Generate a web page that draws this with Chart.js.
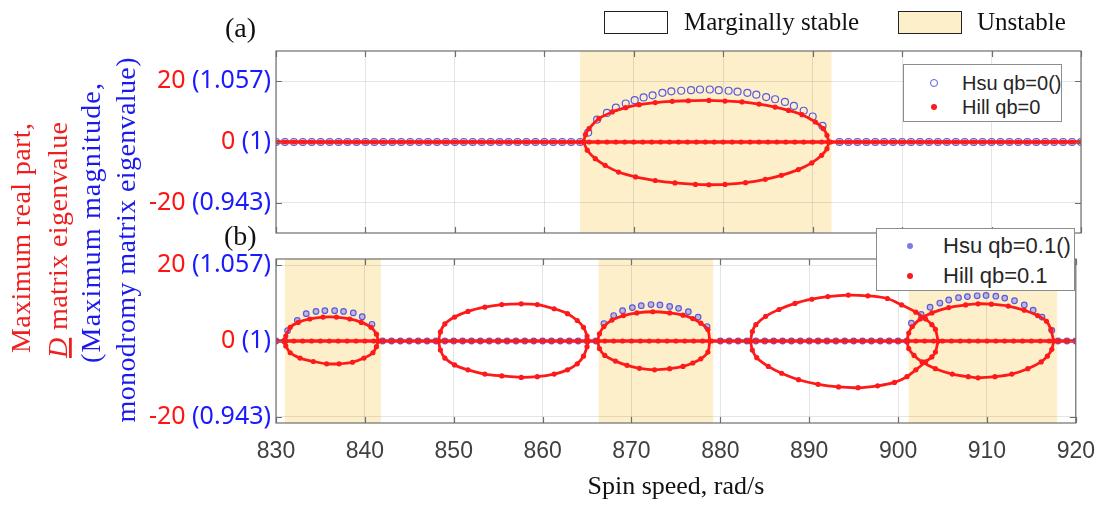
<!DOCTYPE html>
<html>
<head>
<meta charset="utf-8">
<title>Stability of the spinning system</title>
<script src="https://cdn.jsdelivr.net/npm/chart.js@4.4.1/dist/chart.umd.min.js"></script>
<style>
  body { margin: 0; background: #fff; }
  #fig { position: relative; width: 1110px; height: 508px; overflow: hidden; background: #fff; }
  #fig canvas { position: absolute; left: 0; top: 0; }
  .serif { position: absolute; font-family: "Liberation Serif", "Times New Roman", serif; color: #111; white-space: nowrap; line-height: 1; }
  .swatch { position: absolute; border: 1.5px solid #222; box-sizing: border-box; }
  .key { position: absolute; background: #fff; border: 1px solid #8c8c8c; box-sizing: border-box;
         font-family: "Liberation Sans", Arial, sans-serif; color: #262626; }
  .key div { position: absolute; white-space: nowrap; line-height: 1; }
  .key .dot { border-radius: 50%; box-sizing: border-box; }
</style>
</head>
<body>
<div id="fig">
  <canvas id="panelA" width="1110" height="508"></canvas>
  <canvas id="panelB" width="1110" height="508"></canvas>

  <svg width="170" height="508" style="position:absolute;left:0;top:0"
       font-family="Liberation Serif, Times New Roman, serif" font-size="28">
    <text transform="translate(30,238) rotate(-90)" text-anchor="middle" fill="#f01e1e"
          textLength="230" lengthAdjust="spacing">Maximum real part,</text>
    <text transform="translate(67,240) rotate(-90)" text-anchor="middle" fill="#f01e1e"
          textLength="236" lengthAdjust="spacing"><tspan font-style="italic" text-decoration="underline">D</tspan> matrix eigenvalue</text>
    <text transform="translate(100,223) rotate(-90)" text-anchor="middle" fill="#1a1aee"
          textLength="280" lengthAdjust="spacing">(Maximum magnitude,</text>
    <text transform="translate(135,240) rotate(-90)" text-anchor="middle" fill="#1a1aee"
          textLength="365" lengthAdjust="spacing">monodromy matrix eigenvalue)</text>
  </svg>

  <div class="serif" style="left:225px;top:14px;font-size:28px">(a)</div>
  <div class="serif" style="left:224px;top:222px;font-size:28px">(b)</div>

  <div class="swatch" style="left:604px;top:11px;width:64px;height:23px;background:#fff"></div>
  <div class="serif" style="left:684px;top:9px;font-size:25px">Marginally stable</div>
  <div class="swatch" style="left:898px;top:11px;width:64px;height:23px;background:#fdefca"></div>
  <div class="serif" style="left:977px;top:9px;font-size:25px">Unstable</div>

  <div class="key" style="left:903px;top:64px;width:159px;height:58px;font-size:20px">
    <div class="dot" style="left:26px;top:14px;width:8px;height:8px;border:1.3px solid #5a5ae0"></div>
    <div style="left:58px;top:8px">Hsu qb=0()</div>
    <div class="dot" style="left:27px;top:39px;width:6px;height:6px;background:#ff1a1a"></div>
    <div style="left:58px;top:32px">Hill qb=0</div>
  </div>

  <div class="key" style="left:876px;top:228px;width:199px;height:63px;font-size:22px">
    <div class="dot" style="left:30px;top:14px;width:6px;height:6px;background:#7b7be6"></div>
    <div style="left:66px;top:6px">Hsu qb=0.1()</div>
    <div class="dot" style="left:30px;top:44px;width:6px;height:6px;background:#ff1a1a"></div>
    <div style="left:66px;top:36px">Hill qb=0.1</div>
  </div>
</div>

<script>
// ---------- data ----------
var xTicks = [830, 840, 850, 860, 870, 880, 890, 900, 910, 920];
var yTicks = [-20, 0, 20];
var yTickReal = ['-20', '0', '20'];
var yTickMag = ['(0.943)', '(1)', '(1.057)'];

// spin speeds (rad/s) at which the neutral eigenvalues sit on the zero line
var spinGrid = [830, 831, 832, 833, 834, 835, 836, 837, 838, 839, 840, 841, 842, 843, 844, 845,
  846, 847, 848, 849, 850, 851, 852, 853, 854, 855, 856, 857, 858, 859, 860, 861, 862, 863, 864,
  865, 866, 867, 868, 869, 870, 871, 872, 873, 874, 875, 876, 877, 878, 879, 880, 881, 882, 883,
  884, 885, 886, 887, 888, 889, 890, 891, 892, 893, 894, 895, 896, 897, 898, 899, 900, 901, 902,
  903, 904, 905, 906, 907, 908, 909, 910, 911, 912, 913, 914, 915, 916, 917, 918, 919, 920];

// unstable spin-speed ranges
var unstableA = [[864.0, 892.1]];
var unstableB = [[831.0, 841.8], [866.3, 879.2], [901.2, 917.9]];

// (a) qb = 0
var hsuA_x = [864.9, 865.9, 867.0, 868.0, 869.1, 870.1, 871.1, 872.1, 873.2, 874.2, 875.3, 876.4, 877.4,
  878.5, 879.5, 880.6, 881.6, 882.7, 883.7, 884.8, 885.8, 886.9, 887.9, 889.0, 890.0, 891.1];
var hsuA_y = [3.1, 7.4, 9.6, 11.3, 12.7, 13.8, 14.7, 15.4, 16.2, 16.7, 16.9, 17.1, 17.3,
  17.3, 17.1, 16.9, 16.6, 16.2, 15.6, 14.8, 14.1, 13.2, 11.9, 10.3, 8.4, 5.3];
var hillUpA_x = [864.4, 864.6, 865.0, 866.1, 867.6, 869.1, 870.6, 872.4, 874.3, 876.1, 878.4, 880.2,
  882.1, 884.0, 885.8, 887.3, 888.8, 890.3, 891.2, 891.6, 891.8];
var hillUpA_y = [0, 2.4, 4.4, 7.7, 9.9, 11.3, 12.3, 13.0, 13.4, 13.6, 13.7, 13.5,
  13.2, 12.5, 11.5, 10.4, 9.0, 6.6, 4.4, 2.2, 0];
var hillLowA_x = [864.4, 864.8, 865.7, 866.8, 868.3, 870.2, 872.4, 874.6, 876.9, 878.4, 880.2, 882.5,
  884.7, 886.5, 888.4, 889.9, 891.0, 891.6, 891.8];
var hillLowA_y = [0, -2.7, -5.5, -7.7, -9.9, -11.5, -12.7, -13.5, -14.0, -14.1, -14.0, -13.4,
  -12.3, -11.0, -9.1, -6.9, -4.4, -2.2, 0];

// (b) qb = 0.1
var hsuB1_x = [831.3, 832.4, 833.4, 834.5, 835.5, 836.6, 837.6, 838.7, 839.7, 840.8];
var hsuB1_y = [2.7, 5.4, 7.2, 7.8, 8.0, 8.0, 7.8, 7.4, 6.4, 4.4];
var hsuB3_x = [866.9, 868.0, 869.0, 870.1, 871.1, 872.2, 873.2, 874.3, 875.3, 876.4, 877.5, 878.5];
var hsuB3_y = [4.6, 6.7, 8.0, 8.8, 9.3, 9.6, 9.5, 9.1, 8.6, 7.7, 6.3, 3.8];
var hsuB5_x = [901.5, 902.6, 903.6, 904.7, 905.7, 906.8, 907.8, 908.9, 909.9, 911.0, 912.0, 913.1,
  914.2, 915.2, 916.2, 917.3];
var hsuB5_y = [4.7, 7.0, 8.9, 10.0, 10.8, 11.4, 11.7, 11.9, 12.0, 11.8, 11.3, 10.6,
  9.5, 8.1, 6.3, 2.8];

var hillUpB1_x = [830.9, 831.1, 831.6, 832.5, 833.8, 835.3, 836.8, 838.3, 839.6, 840.7, 841.3, 841.5];
var hillUpB1_y = [0, 1.3, 3.6, 4.9, 5.8, 6.3, 6.3, 5.8, 4.9, 3.6, 1.8, 0];
var hillLowB1_x = [830.9, 831.1, 831.6, 832.7, 834.2, 835.7, 837.1, 838.6, 839.9, 840.9, 841.3, 841.5];
var hillLowB1_y = [0, -1.3, -3.1, -4.5, -5.4, -6.0, -6.0, -5.6, -4.5, -3.1, -1.5, 0];

var hillUpB2_x = [848.3, 848.5, 849.0, 850.1, 851.6, 853.5, 855.4, 857.6, 859.4, 861.3, 862.8, 863.9,
  864.6, 865.0, 865.1];
var hillUpB2_y = [0, 2.4, 4.5, 6.3, 7.8, 8.9, 9.6, 9.8, 9.6, 8.5, 7.2, 5.4, 3.6, 1.3, 0];
var hillLowB2_x = [848.3, 848.5, 849.0, 850.1, 851.6, 853.5, 855.4, 857.6, 859.4, 861.3, 862.8, 863.9,
  864.6, 865.0, 865.1];
var hillLowB2_y = [0, -2.4, -4.5, -6.3, -7.6, -8.7, -9.2, -9.6, -9.4, -8.7, -7.6, -6.0, -4.0, -1.5, 0];

var hillUpB3_x = [866.2, 866.4, 866.9, 867.8, 869.1, 870.6, 872.4, 874.3, 875.8, 876.9, 877.8, 878.6, 878.8];
var hillUpB3_y = [0, 1.9, 3.8, 5.5, 6.7, 7.4, 7.7, 7.4, 6.8, 5.9, 4.7, 3.0, 0];
var hillLowB3_x = [866.2, 866.4, 867.0, 868.2, 869.5, 870.9, 872.6, 874.3, 875.8, 876.9, 877.8, 878.6, 878.8];
var hillLowB3_y = [0, -2.0, -3.8, -5.3, -6.4, -7.2, -7.6, -7.3, -6.7, -5.8, -4.7, -2.9, 0];

var hillUpB4_x = [883.4, 883.6, 884.0, 885.1, 886.6, 888.4, 890.3, 892.1, 894.4, 896.6, 898.8, 900.4,
  902.0, 903.1, 903.8, 904.2, 904.5];
var hillUpB4_y = [0, 2.5, 4.3, 6.5, 8.3, 9.9, 11.0, 11.7, 12.1, 11.9, 11.2, 9.5,
  7.6, 5.8, 4.3, 3.1, 0];
var hillLowB4_x = [883.4, 883.6, 884.1, 885.4, 886.9, 888.8, 891.0, 893.3, 895.5, 897.7, 899.6, 901.0,
  902.0, 903.1, 903.8, 904.2, 904.5];
var hillLowB4_y = [0, -2.4, -4.4, -6.7, -8.5, -10.2, -11.4, -12.1, -12.3, -11.8, -10.9, -9.4,
  -7.6, -5.5, -4.2, -2.9, 0];

var hillUpB5_x = [901.0, 901.2, 901.6, 902.5, 903.8, 905.7, 907.6, 909.0, 910.5, 912.4, 914.2, 915.7,
  916.7, 917.2, 917.5];
var hillUpB5_y = [0, 2.1, 3.8, 5.8, 7.4, 8.8, 9.5, 9.8, 9.7, 9.2, 8.1, 6.7, 5.2, 3.0, 0];
var hillLowB5_x = [901.0, 901.2, 901.8, 902.7, 904.2, 906.1, 907.9, 909.0, 910.9, 912.8, 914.6, 916.1,
  916.8, 917.3, 917.5];
var hillLowB5_y = [0, -2.0, -3.8, -5.5, -7.3, -8.7, -9.4, -9.7, -9.4, -8.7, -7.3, -5.5, -4.0, -2.2, 0];

// ---------- styling ----------
var RED = '#ff1a1a';
var BLUE = '#5a5ae0';
var BAND = '#fdefca';
var GRID = 'rgba(0,0,0,0.10)';

Chart.defaults.font.family = '"Liberation Sans", Arial, sans-serif';

function pts(xs, ys) {
  return xs.map(function (x, i) { return { x: x, y: ys[i] }; });
}

function zeroLine(bands) {
  // neutral values outside the unstable ranges
  return spinGrid.filter(function (x) {
    return !bands.some(function (b) { return x > b[0] && x < b[1]; });
  }).map(function (x) { return { x: x, y: 0 }; });
}

function hill(data, width) {
  return {
    data: data, showLine: true, borderColor: RED, borderWidth: width || 2.8, tension: 0.3,
    pointRadius: 2.6, pointBackgroundColor: RED, pointBorderWidth: 0, order: 1
  };
}

function hsu(data, fill, r) {
  return {
    data: data, showLine: false, pointRadius: r, pointBorderWidth: 1.2,
    pointBorderColor: BLUE, pointBackgroundColor: fill, order: 2
  };
}

var framePlugin = {
  id: 'frame',
  beforeDraw: function (chart, args, opts) {
    var a = chart.chartArea, xs = chart.scales.x, ctx = chart.ctx;
    ctx.save();
    ctx.fillStyle = BAND;
    opts.bands.forEach(function (b) {
      var l = xs.getPixelForValue(b[0]), r = xs.getPixelForValue(b[1]);
      ctx.fillRect(l, a.top, r - l, a.bottom - a.top);
    });
    ctx.restore();
  },
  afterDatasetsDraw: function (chart) {
    var a = chart.chartArea, xs = chart.scales.x, ys = chart.scales.y, ctx = chart.ctx;
    ctx.save();
    ctx.strokeStyle = '#6e6e6e';
    ctx.lineWidth = 1.2;
    ctx.strokeRect(a.left, a.top, a.right - a.left, a.bottom - a.top);
    ctx.beginPath();
    xTicks.forEach(function (v) {
      var px = Math.round(xs.getPixelForValue(v)) + 0.5;
      ctx.moveTo(px, a.top); ctx.lineTo(px, a.top + 6);
      ctx.moveTo(px, a.bottom); ctx.lineTo(px, a.bottom - 6);
    });
    yTicks.forEach(function (v) {
      var py = Math.round(ys.getPixelForValue(v)) + 0.5;
      ctx.moveTo(a.left, py); ctx.lineTo(a.left + 6, py);
      ctx.moveTo(a.right, py); ctx.lineTo(a.right - 6, py);
    });
    ctx.stroke();

    // y tick labels: red real part, blue magnitude in brackets
    ctx.font = '25px "Noto Sans"';
    ctx.textBaseline = 'middle';
    ctx.textAlign = 'right';
    yTicks.forEach(function (v, i) {
      var py = ys.getPixelForValue(v), xr = a.left - 5;
      ctx.fillStyle = '#1a1aff';
      ctx.fillText(yTickMag[i], xr, py);
      var w = ctx.measureText(yTickMag[i] + ' ').width;
      ctx.fillStyle = '#ff1414';
      ctx.fillText(yTickReal[i], xr - w, py);
    });
    ctx.restore();
  }
};

function setTicks(list) {
  return function (s) { s.ticks = list.map(function (v) { return { value: v }; }); };
}

function panelOptions(bands, yMax, padding, showX) {
  return {
    responsive: false,
    animation: false,
    layout: { padding: padding },
    plugins: { legend: { display: false }, tooltip: { enabled: false }, frame: { bands: bands } },
    scales: {
      x: {
        type: 'linear', min: 830, max: 920,
        afterBuildTicks: setTicks(xTicks),
        grid: { color: GRID, drawTicks: false },
        border: { display: false },
        ticks: {
          display: showX, padding: 15, color: '#404040',
          font: { family: '"Liberation Sans Narrow", "Arial Narrow", "Liberation Sans", sans-serif', size: 23 }
        },
        title: {
          display: showX, text: 'Spin speed, rad/s', color: '#111',
          font: { family: '"Liberation Serif", "Times New Roman", serif', size: 26 },
          padding: { top: 0, bottom: 5 }
        },
        afterFit: function (s) { s.height = showX ? 85 : 0; }
      },
      y: {
        min: -yMax, max: yMax,
        afterBuildTicks: setTicks(yTicks),
        grid: { color: GRID, drawTicks: false },
        border: { display: false },
        ticks: { display: false },
        afterFit: function (s) { s.width = 276; }
      }
    }
  };
}

// panel (a)
new Chart(document.getElementById('panelA'), {
  type: 'scatter',
  data: {
    datasets: [
      hsu(zeroLine(unstableA), 'rgba(255,255,255,0)', 3.5),
      hsu(pts(hsuA_x, hsuA_y), 'rgba(255,255,255,0)', 3.5),
      hill(pts(spinGrid, spinGrid.map(function () { return 0; })), 3.4),
      hill(pts(hillUpA_x, hillUpA_y)),
      hill(pts(hillLowA_x, hillLowA_y))
    ]
  },
  options: panelOptions(unstableA, 30, { top: 51, right: 29, bottom: 275, left: 0 }, false),
  plugins: [framePlugin]
});

// panel (b)
var fillB = 'rgba(120,120,230,0.45)';
new Chart(document.getElementById('panelB'), {
  type: 'scatter',
  data: {
    datasets: [
      hsu(zeroLine(unstableB), fillB, 2.8),
      hsu(pts(hsuB1_x, hsuB1_y), fillB, 2.8),
      hsu(pts(hsuB3_x, hsuB3_y), fillB, 2.8),
      hsu(pts(hsuB5_x, hsuB5_y), fillB, 2.8),
      hill(pts(spinGrid, spinGrid.map(function () { return 0; })), 3.4),
      hill(pts(hillUpB1_x, hillUpB1_y)),
      hill(pts(hillLowB1_x, hillLowB1_y)),
      hill(pts(hillUpB2_x, hillUpB2_y)),
      hill(pts(hillLowB2_x, hillLowB2_y)),
      hill(pts(hillUpB3_x, hillUpB3_y)),
      hill(pts(hillLowB3_x, hillLowB3_y)),
      hill(pts(hillUpB4_x, hillUpB4_y)),
      hill(pts(hillLowB4_x, hillLowB4_y)),
      hill(pts(hillUpB5_x, hillUpB5_y)),
      hill(pts(hillLowB5_x, hillLowB5_y))
    ]
  },
  options: panelOptions(unstableB, 21.6, { top: 259, right: 29, bottom: 0, left: 0 }, true),
  plugins: [framePlugin]
});
</script>
</body>
</html>
